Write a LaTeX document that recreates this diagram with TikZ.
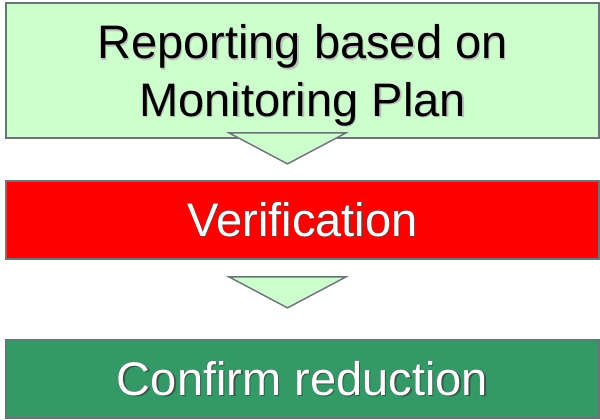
\documentclass[tikz,border=0pt]{standalone}
\usepackage{fontspec}
\setmainfont{Liberation Sans}
\usetikzlibrary{calc}
\definecolor{paleGreen}{HTML}{CCFFCC}
\definecolor{frameGray}{HTML}{6B7479}
\definecolor{seaGreen}{HTML}{339966}
\newcommand{\shadowed}[2]{\leavevmode\rlap{\kern1.6pt\raisebox{-1.6pt}{\color{#1}#2}}#2}
\begin{document}
\begin{tikzpicture}[x=0.04cm,y=-0.04cm,
  every node/.style={font=\fontsize{53.5}{65}\selectfont},
  stagebox/.style={draw=frameGray,line width=2pt,minimum width=23.72cm,inner sep=0pt,align=center},
  downtri/.style={draw=frameGray,line width=1.6pt,fill=paleGreen,line join=miter}]
  \useasboundingbox (0,0) rectangle (600,419);
  % the three stages
  \node[stagebox,fill=paleGreen,minimum height=5.4cm,text depth=-4.5pt] (report) at (302.5,70.5)
    {\shadowed{black!25}{Reporting based on}\\\shadowed{black!25}{Monitoring Plan}};
  \node[stagebox,fill=red,minimum height=3.12cm,text=white] (verify) at (302.5,220)
    {\shadowed{black!70}{Verification}};
  \node[stagebox,fill=seaGreen,minimum height=3.12cm,text=white] (confirm) at (302.5,379)
    {\shadowed{black!70}{Confirm reduction}};
  % down arrows
  \draw[downtri] ($(report.south)+(-73.5,-6)$) -- ($(report.south)+(43.5,-6)$) -- ($(report.south)+(-15,25)$) -- cycle;
  \draw[downtri] ($(verify.south)+(-73.5,17)$) -- ($(verify.south)+(43.5,17)$) -- ($(verify.south)+(-15,48)$) -- cycle;
\end{tikzpicture}
\end{document}
